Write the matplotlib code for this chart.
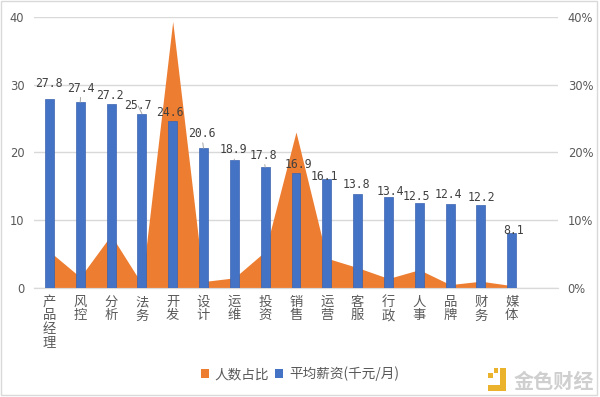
import matplotlib
matplotlib.use("Agg")
import matplotlib.pyplot as plt
from matplotlib.patches import Patch, Rectangle, Polygon
from matplotlib.ticker import FuncFormatter

# ---------------- data ----------------
categories = ["产品经理", "风控", "分析", "法务", "开发", "设计", "运维", "投资",
              "销售", "运营", "客服", "行政", "人事", "品牌", "财务", "媒体"]
salary = [27.8, 27.4, 27.2, 25.7, 24.6, 20.6, 18.9, 17.8,
          16.9, 16.1, 13.8, 13.4, 12.5, 12.4, 12.2, 8.1]
share_pct = [5.4, 1.6, 7.8, 0.6, 39.3, 0.95, 1.5, 5.4,
             23.0, 4.4, 3.0, 1.4, 2.7, 0.5, 1.0, 0.35]
left_ticks = [0, 10, 20, 30, 40]
right_ticks = [0, 10, 20, 30, 40]
legend_labels = ["人数占比", "平均薪资(千元/月)"]
watermark = "金色财经"

# label placement (pixel offsets from bar top) - layout only
label_dx = [-0.5, 1, -1.2, -3.7, -2.5, -2, -1.2, -1.6, 2.1, -2.2, -1.1, 1.8, -2.7, -1.6, 0.1, 1.7]
label_dy = [15.5, 14, 7.7, 7.7, 8.7, 14.7, 10, 12, 9.3, 2.8, 9.5, 6.1, 6.8, 9, 7.7, 2.9]
leader = [False, True, False, True, False, True, True, True,
          False, False, False, False, False, False, False, False]

ORANGE = "#ED7D31"
BLUE = "#4472C4"
GRAY = "#595959"
GRID = "#D9D9D9"
CJK = ["Noto Sans CJK SC", "DejaVu Sans"]

W, H = 600, 397
fig = plt.figure(figsize=(6.0, 3.97), dpi=100)
fig.patch.set_facecolor("white")

ax = fig.add_axes([34 / W, 1 - 288 / H, (558 - 34) / W, (288 - 16.7) / H])
ax2 = ax.twinx()
ax.set_zorder(ax2.get_zorder() + 1)
ax.patch.set_visible(False)

x = list(range(len(categories)))

# area series (secondary axis)
ax2.fill_between(x, [v / 100 for v in share_pct], 0, color=ORANGE, lw=0, zorder=2)
ax2.set_ylim(0, 0.4)
ax2.set_yticks([t / 100 for t in right_ticks])
ax2.yaxis.set_major_formatter(FuncFormatter(lambda v, p: f"{v*100:.0f}%"))
ax2.grid(axis="y", color=GRID, lw=1.0, zorder=0)
ax2.set_axisbelow(True)

# bars (primary axis)
ax.bar(x, salary, width=0.29, color=BLUE, edgecolor="#3A64B0", lw=0.5, zorder=3)
ax.set_ylim(0, 40)
ax.set_xlim(-0.5, 16.5)
ax.set_yticks(left_ticks)

for i, v in enumerate(salary):
    kw = {}
    if leader[i]:
        kw["arrowprops"] = dict(arrowstyle="-", color="#A6A6A6", lw=0.7,
                                shrinkA=0, shrinkB=0)
    ax.annotate(f"{v:g}", xy=(i, v), xytext=(label_dx[i], label_dy[i]),
                textcoords="offset pixels", ha="center", va="center",
                fontsize=8.3, family="DejaVu Sans Mono", color="#404040",
                zorder=5, **kw)

ax.set_xticks(x)
ax.set_xticklabels(["\n".join(c) for c in categories], family=CJK,
                   fontsize=9.6, color=GRAY, linespacing=0.95)

for a in (ax, ax2):
    for s in ("top", "left", "right"):
        a.spines[s].set_visible(False)
    a.spines["bottom"].set_color(GRID)
    a.tick_params(length=0)
ax.tick_params(axis="y", labelsize=8.3, labelcolor=GRAY, pad=7)
ax.tick_params(axis="x", pad=5)
ax2.tick_params(axis="y", labelsize=8.3, labelcolor=GRAY, pad=7)

# legend
handles = [Patch(facecolor=ORANGE, edgecolor="none"),
           Patch(facecolor=BLUE, edgecolor="none")]
leg = fig.legend(handles, legend_labels, loc="center", bbox_to_anchor=(300 / W, 1 - 374 / H),
                 ncol=2, frameon=False, prop={"family": CJK, "size": 9.8},
                 handlelength=0.6, handleheight=0.6, handletextpad=0.4,
                 columnspacing=0.45, borderpad=0)
for t in leg.get_texts():
    t.set_color(GRAY)

# watermark
gold = "#EBB32C"
def px(xp, yp):
    return (xp / W, 1 - yp / H)
fig.patches.append(Rectangle(px(488, 378), 5 / W, 5 / H, transform=fig.transFigure,
                             facecolor=gold, edgecolor="none"))
fig.patches.append(Polygon([px(500, 368), px(506, 368), px(506, 391), px(488, 391),
                            px(488, 385), px(500, 385)], closed=True,
                           transform=fig.transFigure, facecolor=gold, edgecolor="none"))
fig.patches.append(Rectangle(px(494, 373), 4 / W, 5 / H, transform=fig.transFigure,
                             facecolor=gold, edgecolor="none"))
fig.text(554 / W, 1 - 381 / H, watermark, ha="center", va="center", family=CJK,
         fontsize=14.5, color="#CFCFCF", fontweight="bold")

# outer border
fig.patches.append(Rectangle((1 / W, 1 - 395 / H), 596 / W, 394 / H, transform=fig.transFigure,
                             facecolor="none", edgecolor=GRID, lw=1))

fig.savefig("out.png", dpi=100)
